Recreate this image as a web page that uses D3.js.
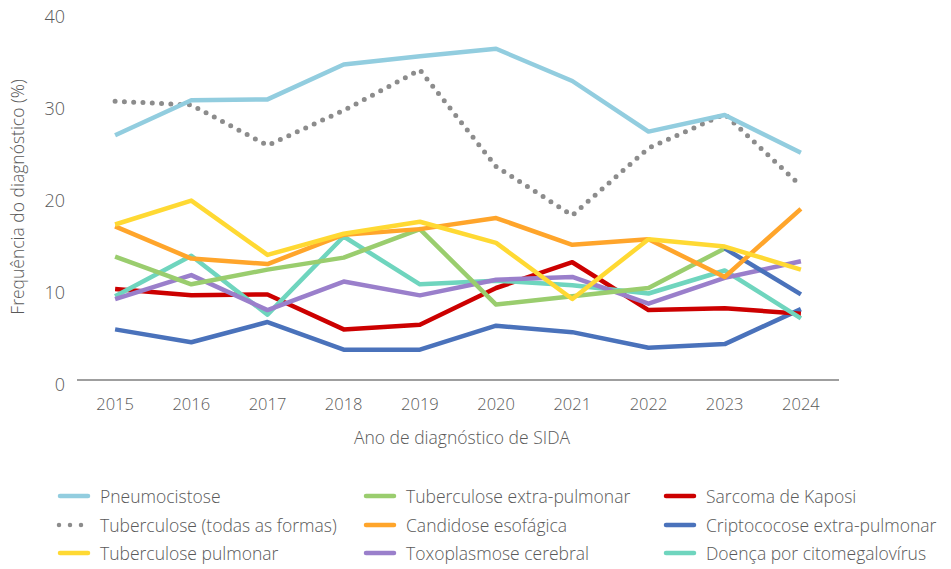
<!DOCTYPE html>
<html>
<head>
<meta charset="utf-8">
<script src="https://cdnjs.cloudflare.com/ajax/libs/d3/7.8.5/d3.min.js"></script>
<style>
  body { margin: 0; background: #fff; }
  text { font-family: "Open Sans", Lato, sans-serif; font-weight: 300; fill: #595959; }
</style>
</head>
<body>
<svg id="view"></svg>
<script>
var years = ["2015","2016","2017","2018","2019","2020","2021","2022","2023","2024"];
var yTicks = [0, 10, 20, 30, 40];

var pneumocistose   = [26.6, 30.4, 30.5, 34.3, 35.2, 36.0, 32.5, 27.0, 28.8, 24.7];
var tbTodas         = [30.3, 29.9, 25.5, 29.3, 33.7, 23.2, 17.9, 25.2, 28.9, 21.1];
var tbPulmonar      = [16.9, 19.5, 13.6, 15.9, 17.2, 14.9, 8.8, 15.3, 14.5, 12.0];
var tbExtra         = [13.4, 10.4, 12.0, 13.3, 16.4, 8.2, 9.1, 10.0, 14.3, 9.3];
var candidose       = [16.7, 13.2, 12.6, 15.8, 16.4, 17.6, 14.7, 15.3, 11.2, 18.6];
var toxoplasmose    = [8.8, 11.4, 7.6, 10.7, 9.2, 10.9, 11.2, 8.3, 11.1, 12.9];
var kaposi          = [9.9, 9.2, 9.3, 5.5, 6.0, 10.0, 12.8, 7.6, 7.8, 7.2];
var criptococose    = [5.5, 4.1, 6.3, 3.3, 3.3, 5.9, 5.2, 3.5, 3.9, 7.7];
var citomegalovirus = [9.1, 13.5, 7.1, 15.6, 10.4, 10.8, 10.3, 9.4, 11.9, 6.7];

var series = [
  { name: "Pneumocistose", values: pneumocistose, color: "#92cddf" },
  { name: "Tuberculose (todas as formas)", values: tbTodas, color: "#8c8c8c", dotted: true },
  { name: "Tuberculose pulmonar", values: tbPulmonar, color: "#ffd933" },
  { name: "Tuberculose extra-pulmonar", values: tbExtra, color: "#9acd6e", lastColor: "#4a72bb" },
  { name: "Candidose esofágica", values: candidose, color: "#ffa52b" },
  { name: "Toxoplasmose cerebral", values: toxoplasmose, color: "#9a7fcb" },
  { name: "Sarcoma de Kaposi", values: kaposi, color: "#cc0000" },
  { name: "Criptococose extra-pulmonar", values: criptococose, color: "#4a72bb" },
  { name: "Doença por citomegalovírus", values: citomegalovirus, color: "#6fd5be" }
];

// draw order (back to front)
var drawOrder = ["Tuberculose (todas as formas)", "Criptococose extra-pulmonar", "Sarcoma de Kaposi",
  "Doença por citomegalovírus", "Toxoplasmose cerebral", "Tuberculose extra-pulmonar",
  "Candidose esofágica", "Tuberculose pulmonar", "Pneumocistose"];

var width = 951, height = 569;
var svg = d3.select("#view").attr("width", width).attr("height", height);

var x = d3.scaleBand().domain(years).range([77, 839]);
var y = d3.scaleLinear().domain([0, 40]).range([380, 12]);
var cx = d => x(d) + x.bandwidth() / 2;

// x axis line + labels
svg.append("line")
  .attr("x1", 77).attr("x2", 839).attr("y1", y(0)).attr("y2", y(0))
  .attr("stroke", "#7f7f7f").attr("stroke-width", 1.3);

svg.append("g").selectAll("text").data(years).join("text")
  .attr("x", d => cx(d)).attr("y", 410)
  .attr("text-anchor", "middle").attr("font-size", 16.5)
  .text(d => d);

svg.append("g").selectAll("text").data(yTicks).join("text")
  .attr("x", 65).attr("y", d => y(d) + 11)
  .attr("text-anchor", "end").attr("font-size", 18)
  .text(d => d);

svg.append("text")
  .attr("transform", "translate(24,197) rotate(-90)")
  .attr("text-anchor", "middle").attr("font-size", 17.5)
  .text("Frequência do diagnóstico (%)");

svg.append("text")
  .attr("x", 462).attr("y", 444)
  .attr("text-anchor", "middle").attr("font-size", 17.5)
  .text("Ano de diagnóstico de SIDA");

var line = d3.line().x(d => cx(d.year)).y(d => y(d.v));

var plot = svg.append("g");
drawOrder.forEach(function(name) {
  var s = series.find(d => d.name == name);
  var pts = s.values.map((v, i) => ({ year: years[i], v: v }));
  var main = s.lastColor ? pts.slice(0, pts.length - 1) : pts;
  var p = plot.append("path")
    .attr("d", line(main))
    .attr("fill", "none")
    .attr("stroke", s.color)
    .attr("stroke-linejoin", "round");
  if (s.dotted) {
    p.attr("stroke-width", 5).attr("stroke-linecap", "round").attr("stroke-dasharray", "0 9.3");
  } else {
    p.attr("stroke-width", 4.5);
  }
  if (s.lastColor) {
    plot.append("path")
      .attr("d", line(pts.slice(pts.length - 2)))
      .attr("fill", "none").attr("stroke", s.lastColor)
      .attr("stroke-width", 4.5).attr("stroke-linejoin", "round");
  }
});

// legend: 3 columns x 3 rows
var legCols = [60, 366, 666];
var legRows = [496, 525, 553];
var legend = svg.append("g");
series.forEach(function(s, i) {
  var col = Math.floor(i / 3), row = i % 3;
  var g = legend.append("g").attr("transform", "translate(" + legCols[col] + "," + legRows[row] + ")");
  var l = g.append("line").attr("y1", 0).attr("y2", 0)
    .attr("stroke", s.color).attr("stroke-linecap", "round");
  if (s.dotted) l.attr("x1", -1).attr("x2", 22).attr("stroke-width", 4.5).attr("stroke-dasharray", "0 11");
  else l.attr("x1", 0).attr("x2", 28).attr("stroke-width", 4.5);
  g.append("text").attr("x", 40).attr("y", 6.5).attr("font-size", 17.5).text(s.name);
});
</script>
</body>
</html>
